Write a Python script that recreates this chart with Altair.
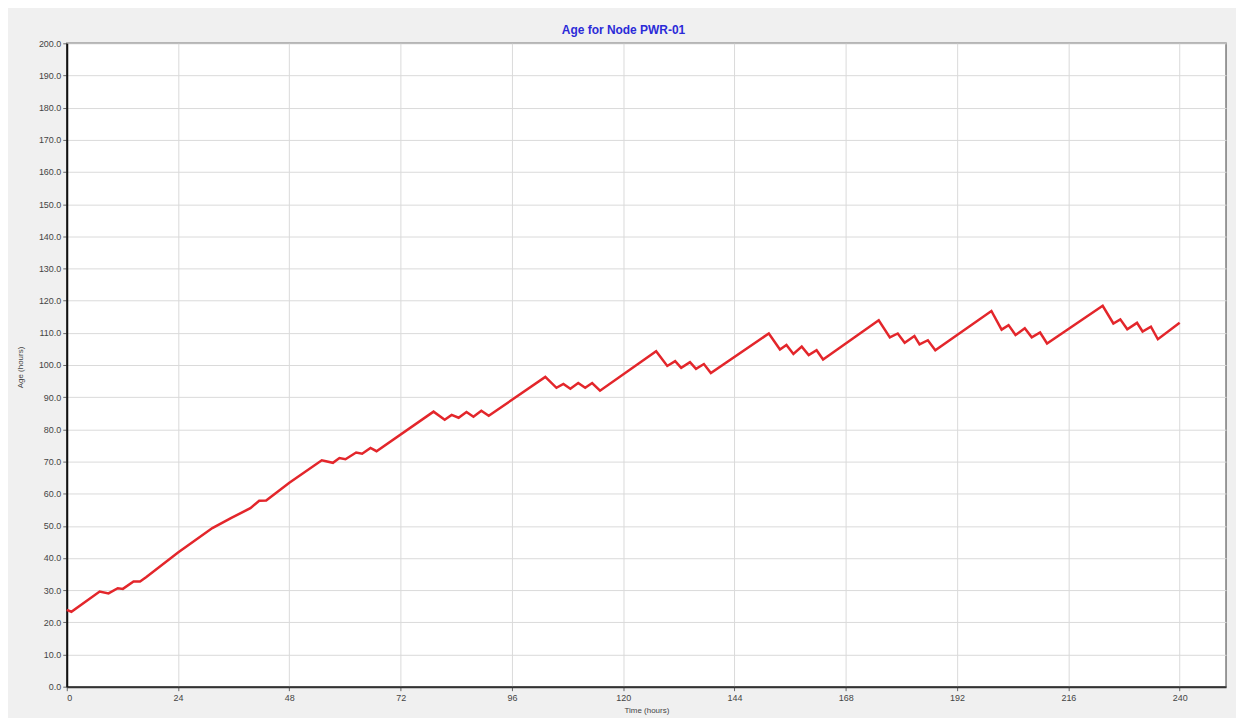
import altair as alt
import pandas as pd

time_h = [0, 1, 7.1, 9, 11, 12.1, 14.4, 15.8, 17.1,
          24, 31.4, 35.5, 39.6, 41.5, 43,
          48, 55, 57.4, 58.8, 60.1, 62.4, 63.7, 65.5, 66.8,
          79.1, 81.5, 83, 84.5, 86.2, 87.7, 89.4, 91,
          103.2, 105.6, 107.1, 108.6, 110.3, 111.8, 113.3, 115,
          127.1, 129.5, 131.2, 132.5, 134.4, 135.7, 137.4, 138.9,
          151.4, 153.8, 155.2, 156.7, 158.5, 160, 161.7, 163.1,
          175.1, 177.5, 179.2, 180.7, 182.8, 183.9, 185.7, 187.3,
          199.4, 201.6, 203.1, 204.6, 206.6, 208.1, 209.9, 211.4,
          223.4, 225.7, 227.2, 228.7, 230.8, 232, 233.8, 235.3,
          240]

age_h = [23.9, 23.3, 29.6, 29.0, 30.6, 30.4, 32.7, 32.7, 34.0,
         41.7, 49.3, 52.5, 55.5, 57.8, 57.9,
         63.4, 70.4, 69.6, 71.1, 70.7, 72.8, 72.4, 74.2, 73.2,
         85.5, 83.0, 84.5, 83.6, 85.4, 83.9, 85.8, 84.2,
         96.3, 92.9, 94.1, 92.6, 94.4, 92.9, 94.4, 92.0,
         104.3, 99.7, 101.2, 99.1, 100.9, 98.8, 100.3, 97.5,
         109.8, 104.8, 106.2, 103.4, 105.7, 103.1, 104.6, 101.7,
         113.9, 108.6, 109.8, 106.9, 109.0, 106.4, 107.7, 104.6,
         116.8, 111.0, 112.4, 109.3, 111.4, 108.6, 110.1, 106.7,
         118.4, 112.9, 114.2, 111.1, 113.1, 110.4, 111.9, 108.0,
         113.1]

x_ticks = [0, 24, 48, 72, 96, 120, 144, 168, 192, 216, 240]
y_ticks = list(range(0, 201, 10))

df = pd.DataFrame({"t": time_h, "age": age_h})

FONT = "Liberation Sans"

chart = alt.Chart(df).mark_line(
    color="#e3262b", strokeWidth=2.5, strokeJoin="miter"
).encode(
    x=alt.X("t:Q",
            scale=alt.Scale(domain=[0, 250], nice=False, zero=False),
            axis=alt.Axis(values=x_ticks, title="Time (hours)", format="d",
                          labelFontSize=9, labelColor="#444", labelFont=FONT,
                          labelPadding=3, tickSize=4, tickColor="#666",
                          domainColor="#333", domainWidth=2,
                          gridColor="#dadada", gridWidth=1,
                          titleFontSize=8, titleFontWeight="normal",
                          titleColor="#444", titleFont=FONT,
                          titleY=28, titleBaseline="bottom")),
    y=alt.Y("age:Q",
            scale=alt.Scale(domain=[0, 200], nice=False),
            axis=alt.Axis(values=y_ticks, title="Age (hours)", format=".1f",
                          labelFontSize=9, labelColor="#444", labelFont=FONT,
                          labelPadding=2, tickSize=4, tickColor="#666",
                          domainColor="#111", domainWidth=2,
                          gridColor="#dadada", gridWidth=1,
                          titleFontSize=8, titleFontWeight="normal",
                          titleColor="#444", titleFont=FONT,
                          titleAngle=270, titleX=-42, titleY=325,
                          titleAlign="center", titleBaseline="bottom")),
).properties(
    width=1164,
    height=646,
    title=alt.TitleParams("Age for Node PWR-01", fontSize=12, fontWeight="bold",
                          color="#2b2bd8", font=FONT, anchor="middle",
                          dx=-23, offset=2),
    autosize=alt.AutoSizeParams(type="none"),
    padding={"left": 59, "top": 34, "right": 10, "bottom": 30},
    background="#f0f0f0",
).configure_view(
    fill="white", stroke="#7a7a7a", strokeWidth=1.5
)

chart.save("out.html", embed_options={"renderer": "svg", "actions": False})
